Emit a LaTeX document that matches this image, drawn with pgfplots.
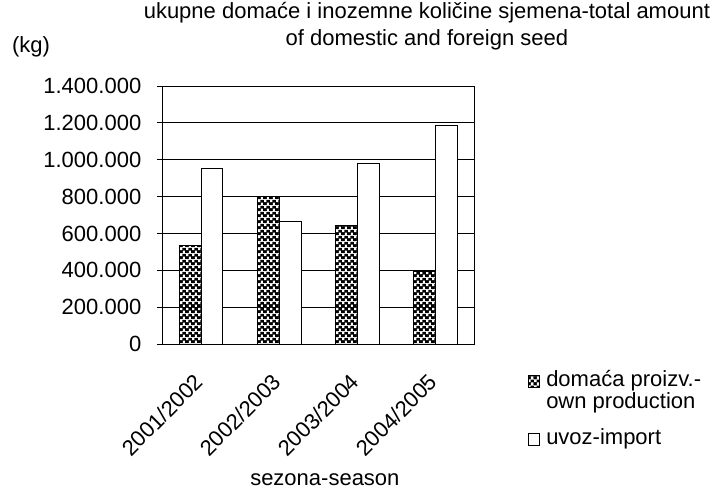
\documentclass[border=0pt]{standalone}
\usepackage{fontspec}
\setmainfont{Liberation Sans}
\usepackage{pgfplots}
\pgfplotsset{compat=1.18}
\usetikzlibrary{patterns.meta}

% dark checkerboard, as in the reference bars
\tikzdeclarepattern{
  name=checks,
  type=colored,
  bounding box={(0pt,0pt) and (3pt,3pt)},
  tile size={(3pt,3pt)},
  code={
    \fill[black] (0pt,0pt) rectangle (3pt,3pt);
    \fill[white] (1.6pt,0.1pt) rectangle (2.9pt,1.4pt);
    \fill[white] (0.1pt,1.6pt) rectangle (1.4pt,2.9pt);
  }
}

\newcommand{\chartfont}{\fontsize{11pt}{13.2pt}\selectfont}

\begin{document}
\chartfont
\begin{tikzpicture}
\begin{axis}[
  at={(81pt,-172pt)}, anchor=south west,
  scale only axis,
  width=156pt, height=129pt,
  ybar=0pt, bar width=0.282,
  xmin=0.5, xmax=4.5,
  ymin=0, ymax=1400000,
  enlarge x limits=false,
  scaled y ticks=false,
  axis line style={black, line width=0.5pt},
  ymajorgrids,
  major grid style={black, line width=0.5pt},
  ytick={0,200000,400000,600000,800000,1000000,1200000,1400000},
  yticklabels={0,200.000,400.000,600.000,800.000,1.000.000,1.200.000,1.400.000},
  xtick={1,2,3,4},
  xticklabels={2001/2002,2002/2003,2003/2004,2004/2005},
  extra x ticks={0.5,1.5,2.5,3.5,4.5},
  extra x tick labels={},
  extra x tick style={major tick length=3.5pt, tick style={black, line width=0.5pt}},
  x tick style={draw=none},
  y tick style={black, line width=0.5pt},
  tick align=outside,
  ytick pos=left,
  xtick pos=bottom,
  major tick length=2.5pt,
  tick label style={font=\chartfont},
  yticklabel style={xshift=-4pt},
  xticklabel style={rotate=45, anchor=east, yshift=-2.5pt},
  xticklabel shift=10pt,
  xlabel={sezona-season},
  xlabel style={at={(axis description cs:0.522,-0.527)}, anchor=center},
  ylabel={(kg)},
  ylabel style={rotate=-90, at={(axis description cs:-0.42,1.151)}, anchor=center},
  title={ukupne domaće i inozemne količine sjemena-total amount\\of domestic and foreign seed},
  title style={at={(axis description cs:0.849,1.186)}, anchor=center, align=center},
  legend style={
    at={(axis description cs:1.154,-0.085)}, anchor=north west,
    draw=none, fill=none,
    font=\chartfont,
    row sep=0pt, column sep=3pt,
    nodes={inner sep=0pt, text height=8pt, text depth=3pt},
  },
  legend cell align=left,
  legend image code/.code={\draw[#1, line width=0.4pt] (0pt,-2.8pt) rectangle (5.5pt,2.8pt);},
]
\addplot[draw=black, line width=0.5pt, pattern={checks}] coordinates {
  (1,535000) (2,799000) (3,642000) (4,391000)};
\addlegendentry{domaća proizv.-}
\addlegendimage{empty legend}
\addlegendentry[text depth=10pt]{own production}
\addplot[draw=black, line width=0.5pt, fill=white] coordinates {
  (1,953000) (2,664000) (3,982000) (4,1185000)};
\addlegendentry{uvoz-import}
\end{axis}
\pgfresetboundingbox
\path[use as bounding box] (0pt,0pt) rectangle (357.5pt,-246pt);
\end{tikzpicture}
\end{document}
